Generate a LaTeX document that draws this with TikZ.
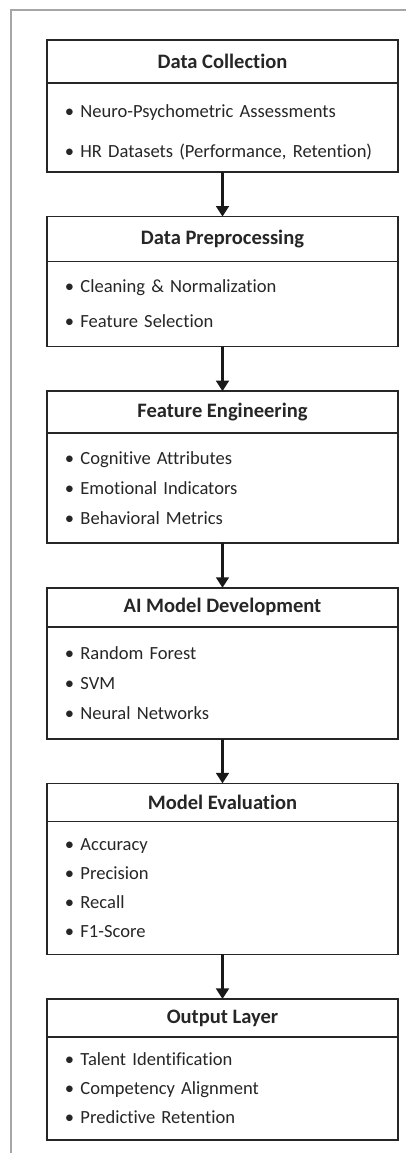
\documentclass[tikz,border=0pt]{standalone}
\usepackage{fontspec}
\setmainfont[Ligatures={NoCommon}]{Carlito}
\usetikzlibrary{positioning,arrows.meta}

\begin{document}
\begin{tikzpicture}[>={Triangle[width=9pt,length=7.5pt]}, line join=miter,
	head/.style={draw=black!85, line width=1.1pt, outer sep=0pt, minimum width=8.775cm,
		font=\fontsize{14.6}{17}\selectfont\bfseries, text=black!85},
	body/.style={draw=black!85, line width=1.1pt, outer sep=0pt, minimum width=8.775cm,
		text width=7.875cm, inner xsep=0.45cm, align=left,
		font=\fontsize{13.2}{21.3}\selectfont, text=black!85},
	flow/.style={->, line width=2.2pt, black!90}]
	
	% Khung ngoài
	\useasboundingbox (0,0) rectangle (10.15,-28.825);
	\draw[gray!70, line width=1.3pt] (0.275,-28.825) -- (0.275,-0.25) -- (10.15,-0.25);
	
	% Data Collection
	\node[head, minimum height=1.075cm, anchor=north] (collect) at (5.5625,-1.0) {Data Collection};
	\node[body, minimum height=2.225cm, below=0pt of collect, font=\fontsize{13.2}{28.5}\selectfont] (collectbody)
	{\rule{0pt}{16pt}• Neuro-Psychometric Assessments\\• HR Datasets (Performance, Retention)};
	
	% Data Preprocessing
	\node[head, minimum height=1.125cm, below=1.115cm of collectbody] (prep) {Data Preprocessing};
	\node[body, minimum height=2.125cm, below=0pt of prep, font=\fontsize{13.2}{24.9}\selectfont] (prepbody)
	{• Cleaning \& Normalization\\• Feature Selection};
	
	% Feature Engineering
	\node[head, minimum height=1.05cm, below=1.115cm of prepbody] (feat) {Feature Engineering};
	\node[body, minimum height=2.75cm, below=0pt of feat] (featbody)
	{• Cognitive Attributes\\• Emotional Indicators\\• Behavioral Metrics};
	
	% AI Model Development
	\node[head, minimum height=0.975cm, below=1.115cm of featbody] (model) {AI Model Development};
	\node[body, minimum height=2.8cm, below=0pt of model] (modelbody)
	{• Random Forest\\• SVM\\• Neural Networks};
	
	% Model Evaluation
	\node[head, minimum height=0.95cm, below=1.115cm of modelbody] (eval) {Model Evaluation};
	\node[body, minimum height=3.325cm, below=0pt of eval, font=\fontsize{13.2}{20.6}\selectfont] (evalbody)
	{• Accuracy\\• Precision\\• Recall\\• F1-Score};
	
	% Output Layer
	\node[head, minimum height=0.95cm, below=1.115cm of evalbody] (out) {Output Layer};
	\node[body, minimum height=2.575cm, below=0pt of out, font=\fontsize{13.2}{20.6}\selectfont] (outbody)
	{• Talent Identification\\• Competency Alignment\\• Predictive Retention};
	
	% Mũi tên
	\draw[flow] (collectbody) -- (prep);
	\draw[flow] (prepbody) -- (feat);
	\draw[flow] (featbody) -- (model);
	\draw[flow] (modelbody) -- (eval);
	\draw[flow] (evalbody) -- (out);
	
\end{tikzpicture}
\end{document}
